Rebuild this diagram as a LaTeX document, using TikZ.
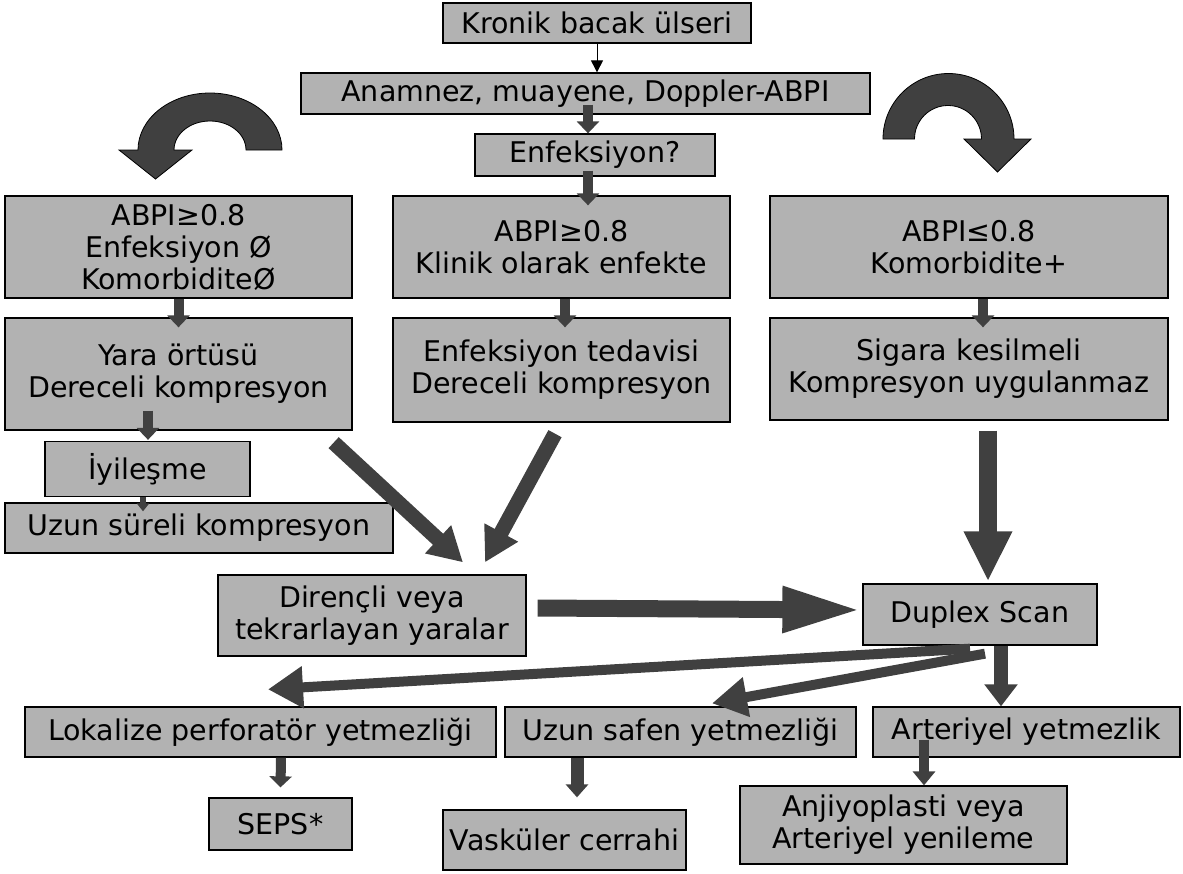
\documentclass[tikz,border=0pt]{standalone}
\usepackage{fontspec}
\setmainfont{DejaVu Sans}
\usetikzlibrary{arrows.meta,calc}
\definecolor{boxgray}{HTML}{B2B2B2}
\definecolor{arrowgray}{HTML}{404040}
\tikzset{
  box/.style={draw=black, line width=1.3pt, fill=boxgray, align=center,
    inner sep=0pt, font=\fontsize{28.5}{32}\selectfont},
  thinarrow/.style={draw=black, line width=1pt, -{Triangle[width=12pt,length=12pt]}},
  barrow/.style args={#1/#2/#3}{draw=arrowgray, line width=#1,
    -{Triangle[width=#2,length=#3]}},
  curvearrow/.style={fill=arrowgray, draw=black, line width=0.8pt},
}
\begin{document}
\begin{tikzpicture}[x=1pt,y=-1pt]
\useasboundingbox (0,0) rectangle (1183,873);

% boxes
\node[box, minimum width=308pt, minimum height=40pt] (kron) at (597,23) {Kronik bacak ülseri};
\node[box, minimum width=569pt, minimum height=41pt] (anam) at (585.5,93.5) {Anamnez, muayene, Doppler-ABPI};
\node[box, minimum width=240pt, minimum height=42pt] (enf) at (595,155) {Enfeksiyon?};

\node[box, minimum width=347pt, minimum height=102pt] (abL) at (178.5,247) {ABPI≥0.8\\Enfeksiyon Ø\\KomorbiditeØ};
\node[box, minimum width=337pt, minimum height=102pt] (abM) at (561.5,247) {ABPI≥0.8\\Klinik olarak enfekte};
\node[box, minimum width=398pt, minimum height=102pt] (abR) at (969,247) {ABPI≤0.8\\Komorbidite+};

\node[box, minimum width=347pt, minimum height=112pt] (yara) at (178.5,374) {Yara örtüsü\\Dereceli kompresyon};
\node[box, minimum width=337pt, minimum height=104pt] (enft) at (561.5,370) {Enfeksiyon tedavisi\\Dereceli kompresyon};
\node[box, minimum width=398pt, minimum height=102pt] (sig) at (969,369) {Sigara kesilmeli\\Kompresyon uygulanmaz};

\node[box, minimum width=205pt, minimum height=55pt] (iyi) at (147.5,469) {İyileşme};
\node[box, minimum width=388pt, minimum height=50pt] (uzs) at (199,528) {Uzun süreli kompresyon};

\node[box, minimum width=308pt, minimum height=81pt] (dir) at (372,615.5) {Dirençli veya\\tekrarlayan yaralar};
\node[box, minimum width=234pt, minimum height=61pt] (dup) at (980,614.5) {Duplex Scan};

\node[box, minimum width=471pt, minimum height=50pt] (lok) at (260.5,732) {Lokalize perforatör yetmezliği};
\node[box, minimum width=351pt, minimum height=50pt] (saf) at (680.5,732) {Uzun safen yetmezliği};
\node[box, minimum width=307pt, minimum height=50pt] (art) at (1026.5,732) {Arteriyel yetmezlik};

\node[box, minimum width=143pt, minimum height=52pt] (seps) at (280.5,824) {SEPS*};
\node[box, minimum width=243pt, minimum height=60pt] (vas) at (564.5,840) {Vasküler cerrahi};
\node[box, minimum width=327pt, minimum height=78pt] (anj) at (903.5,825) {Anjiyoplasti veya\\Arteriyel yenileme};

% connectors
\draw[thinarrow] (kron.south) -- (kron.south |- anam.north);
\draw[barrow=10pt/22pt/12pt] ($(anam.south)+(2.5,-10)$) -- ($(enf.north)+(-7,0)$);
\draw[barrow=10pt/22pt/12pt] ($(enf.south)+(-7,-6)$) -- ($(abM.north)+(26.5,10)$);
\draw[barrow=10pt/22pt/12pt] ($(abL.south)+(0,0)$) -- ($(yara.north)+(0,10)$);
\draw[barrow=10pt/22pt/12pt] ($(abM.south)+(3.5,0)$) -- ($(enft.north)+(3.5,10)$);
\draw[barrow=10pt/22pt/12pt] ($(abR.south)+(14,0)$) -- ($(sig.north)+(14,10)$);
\draw[barrow=10pt/22pt/12pt] ($(yara.south)+(-30.5,-20)$) -- ($(iyi.north)+(0.5,-1)$);
\draw[barrow=6pt/12pt/8pt] ($(iyi.south)+(-4.5,0)$) -- ($(uzs.north)+(-56,9)$);

\draw[barrow=15pt/36pt/34pt] ($(yara.south east)+(-19,12)$) -- ($(dir.north)+(91,-12)$);
\draw[barrow=15pt/36pt/34pt] ($(enft.south)+(-6.5,11)$) -- ($(dir.north)+(113,-12)$);
\draw[barrow=18pt/45pt/50pt] ($(sig.south)+(19,10)$) -- ($(dup.north)+(8,-2)$);
\draw[barrow=17pt/42pt/80pt] ($(dir.east)+(11,-7.5)$) -- ($(dup.west)+(0,-4.5)$);

\draw[barrow=10pt/40pt/35pt] ($(dup.south)+(-10,3)$) -- ($(lok.north)+(7.5,-17)$);
\draw[barrow=10pt/38pt/35pt] ($(dup.south)+(5,8)$) -- ($(saf.north)+(31.5,-3)$);
\draw[barrow=14pt/32pt/22pt] ($(dup.south)+(21,0)$) -- ($(art.north)+(-25.5,0)$);
\draw[barrow=10pt/22pt/14pt] ($(art.south)+(-102.5,-18)$) -- ($(anj.north)+(20.5,0)$);
\draw[barrow=10pt/22pt/11pt] ($(lok.south)+(20.5,0)$) -- ($(seps.north)+(0,-10)$);
\draw[barrow=13pt/22pt/13pt] ($(saf.south)+(-103.5,0)$) -- ($(vas.north)+(12.5,-12)$);

% curved arrows above the side columns
\path[curvearrow] (282,150) arc[start angle=0, end angle=-180, x radius=72, y radius=57]
  -- (119,150) -- (155.5,179) -- (192,150) -- (174,150)
  arc[start angle=180, end angle=360, x radius=36, y radius=29] -- cycle;
\path[curvearrow] (883,139) arc[start angle=180, end angle=360, radius=65.5]
  -- (1031,139) -- (997.5,172) -- (964,139) -- (981.5,139)
  arc[start angle=0, end angle=-180, radius=33.5] -- cycle;
\end{tikzpicture}
\end{document}
